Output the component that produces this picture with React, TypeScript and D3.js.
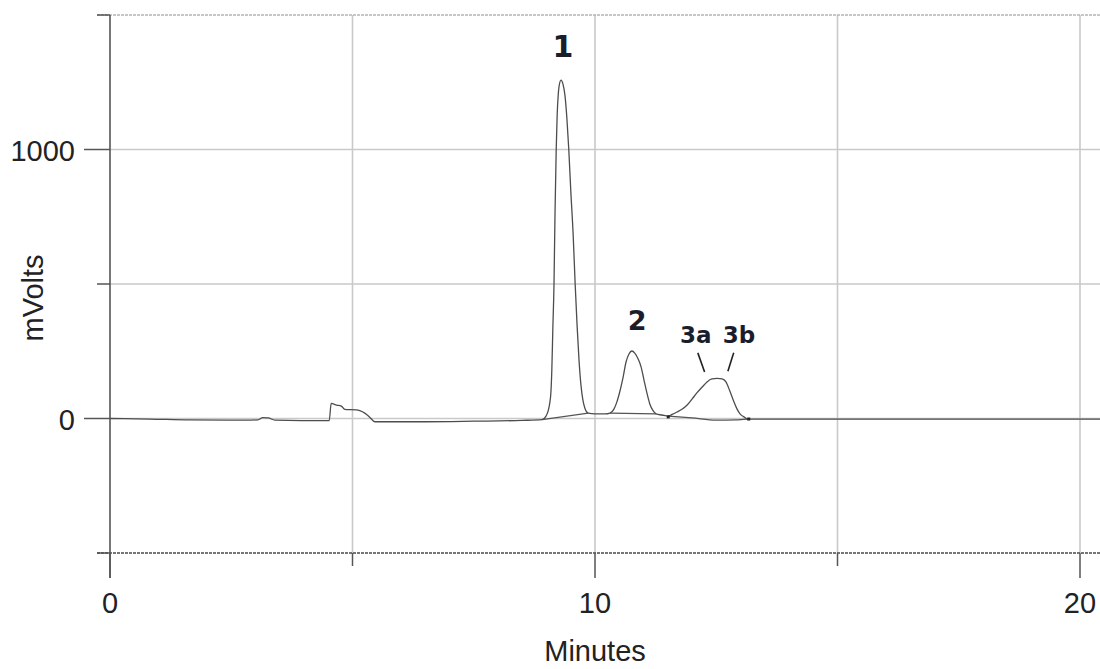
import React from "react";
import * as d3 from "d3";

// ---- data ----
const traceTime = [
  0, 0.82, 1.65, 2.89, 3.05, 3.15, 3.26, 3.4, 4.49, 4.52, 4.56, 4.67, 4.77, 4.84, 5.08, 5.15, 5.26, 5.36, 5.46,
  6.5, 7.5, 8.5, 8.91, 8.99, 9.04, 9.07, 9.09, 9.11, 9.13, 9.155, 9.175, 9.2, 9.22, 9.24, 9.26, 9.3,
  9.34, 9.38, 9.42, 9.46, 9.5, 9.55, 9.59, 9.63, 9.67, 9.71, 9.75, 9.79, 9.86,
  10.0, 10.21, 10.31, 10.39, 10.45, 10.52, 10.58, 10.64, 10.7, 10.76, 10.82, 10.89,
  10.95, 11.01, 11.07, 11.13, 11.2, 11.26, 11.38, 11.51, 11.59, 11.69, 11.8, 11.9, 12.0, 12.1, 12.21, 12.31,
  12.41, 12.52, 12.62, 12.7, 12.78, 12.85, 12.93, 12.99, 13.07, 13.15, 13.4, 15.26, 18.35, 20.45,
];
const traceMv = [
  0, -2, -5, -6, -5, 3, 2, -6, -8, -8, 56, 50, 46, 34, 32, 29, 19, 4, -12,
  -12, -10, -7, -4, 9, 32, 61, 95, 181, 329, 504, 757, 998, 1128, 1199, 1236, 1258,
  1243, 1202, 1117, 998, 849, 682, 504, 348, 218, 125, 69, 39, 20,
  17, 17, 20, 35, 61, 106, 154, 210, 240, 251, 243, 221,
  192, 143, 95, 54, 28, 17, 13, 9, 15, 24, 35, 50, 72, 95, 117, 136,
  147, 149, 147, 136, 102, 69, 35, 17, 6, -2, -2, -2, -2, -2,
];
// integration baselines
const base1Time = [8.91, 9.86];
const base1Mv = [-4, 20];
const base2Time = [10.31, 11.26];
const base2Mv = [20, 17];
const base3Time = [11.51, 12.0, 12.5, 12.9, 13.15];
const base3Mv = [9, 2, -6, -5, -2];
const eventTime = [11.51, 13.17];
const eventMv = [6, -2];

const xTicksMajor = [0, 10, 20];
const xTicksMinor = [5, 15];
const yTicksMajor = [0, 1000];
const yTicksMinor = [-500, 500, 1500];
const xGrid = [5, 10, 15, 20];
const yGrid = [0, 500, 1000];

const peakLabels = ["1", "2", "3a", "3b"];
const peakLabelTime = [9.34, 10.87, 12.08, 12.97];
const peakLabelMv = [1344, 329, 281, 281];
const peakLabelSize = [30, 27, 23, 23];
const markerFrom = [[12.12, 244], [12.86, 244]];
const markerTo = [[12.26, 173], [12.74, 176]];

export default function App() {
  const W = 1100, H = 669;
  const x = d3.scaleLinear().domain([0, 20]).range([110, 1080]);
  const y = d3.scaleLinear().domain([-500, 1500]).range([553, 15]);
  const pts = traceTime.map((t, i) => [t, traceMv[i]] as [number, number]);
  const line = d3.line<[number, number]>().x(d => x(d[0])).y(d => y(d[1])).curve(d3.curveMonotoneX);
  const lin = d3.line<[number, number]>().x(d => x(d[0])).y(d => y(d[1]));
  const mk = (ts: number[], vs: number[]) => ts.map((t, i) => [t, vs[i]] as [number, number]);
  const font = "'Liberation Sans', Arial, Helvetica, sans-serif";
  const gridCol = "#c9c9c9";
  const axisCol = "#555";
  return (
    <svg width={W} height={H} style={{ position: "absolute", left: 0, top: 0, background: "#fff" }}>
      <rect x={0} y={0} width={W} height={H} fill="#fff" />
      {xGrid.map(t => (
        <line key={"xg" + t} x1={x(t)} x2={x(t)} y1={y(1500)} y2={y(-500)} stroke={gridCol} strokeWidth={1.6} />
      ))}
      {yGrid.map(v => (
        <line key={"yg" + v} x1={x(0)} x2={W} y1={y(v)} y2={y(v)} stroke={gridCol} strokeWidth={1.6} />
      ))}
      <line x1={97} x2={W} y1={y(1500)} y2={y(1500)} stroke="#b5b5b5" strokeWidth={1.5} strokeDasharray="3 1" />
      <line x1={97} x2={W} y1={y(-500)} y2={y(-500)} stroke="#4a4a4a" strokeWidth={1.6} strokeDasharray="3 1" />
      <line x1={x(0)} x2={x(0)} y1={y(1500)} y2={578} stroke={axisCol} strokeWidth={1.6} />
      {yTicksMajor.map(v => (
        <line key={"ytM" + v} x1={84} x2={x(0)} y1={y(v)} y2={y(v)} stroke={axisCol} strokeWidth={1.5} />
      ))}
      {yTicksMinor.map(v => (
        <line key={"ytm" + v} x1={97} x2={x(0)} y1={y(v)} y2={y(v)} stroke={axisCol} strokeWidth={1.5} />
      ))}
      {xTicksMajor.map(t => (
        <line key={"xtM" + t} x1={x(t)} x2={x(t)} y1={y(-500)} y2={578} stroke={axisCol} strokeWidth={1.5} />
      ))}
      {xTicksMinor.map(t => (
        <line key={"xtm" + t} x1={x(t)} x2={x(t)} y1={y(-500)} y2={566} stroke={axisCol} strokeWidth={1.5} />
      ))}
      {yTicksMajor.map(v => (
        <text key={"yl" + v} x={75} y={y(v) + 11} textAnchor="end" fontFamily={font} fontSize={29} fill="#222">{v}</text>
      ))}
      {xTicksMajor.map(t => (
        <text key={"xl" + t} x={x(t)} y={613} textAnchor="middle" fontFamily={font} fontSize={29} fill="#222">{t}</text>
      ))}
      <text x={595} y={661} textAnchor="middle" fontFamily={font} fontSize={29} fill="#222">Minutes</text>
      <text transform="translate(43,298) rotate(-90)" textAnchor="middle" fontFamily={font} fontSize={29} fill="#222">mVolts</text>
      <path d={lin(mk(base1Time, base1Mv)) || ""} fill="none" stroke="#555" strokeWidth={1.2} />
      <path d={lin(mk(base2Time, base2Mv)) || ""} fill="none" stroke="#555" strokeWidth={1.2} />
      <path d={line(mk(base3Time, base3Mv)) || ""} fill="none" stroke="#555" strokeWidth={1.2} />
      <path d={line(pts) || ""} fill="none" stroke="#4d4d4d" strokeWidth={1.3} />
      {eventTime.map((t, i) => (
        <rect key={"ev" + i} x={x(t) - 1.5} y={y(eventMv[i]) - 1.5} width={3} height={3} fill="#222" />
      ))}
      {peakLabels.map((l, i) => (
        <text key={"pl" + i} x={x(peakLabelTime[i])} y={y(peakLabelMv[i])} textAnchor="middle"
          fontFamily="'DejaVu Sans', Verdana, sans-serif" fontWeight="bold" fontSize={peakLabelSize[i]} fill="#1a1e2c">{l}</text>
      ))}
      {markerFrom.map((p, i) => (
        <line key={"mk" + i} x1={x(p[0])} y1={y(p[1])} x2={x(markerTo[i][0])} y2={y(markerTo[i][1])} stroke="#222" strokeWidth={1.6} />
      ))}
    </svg>
  );
}
